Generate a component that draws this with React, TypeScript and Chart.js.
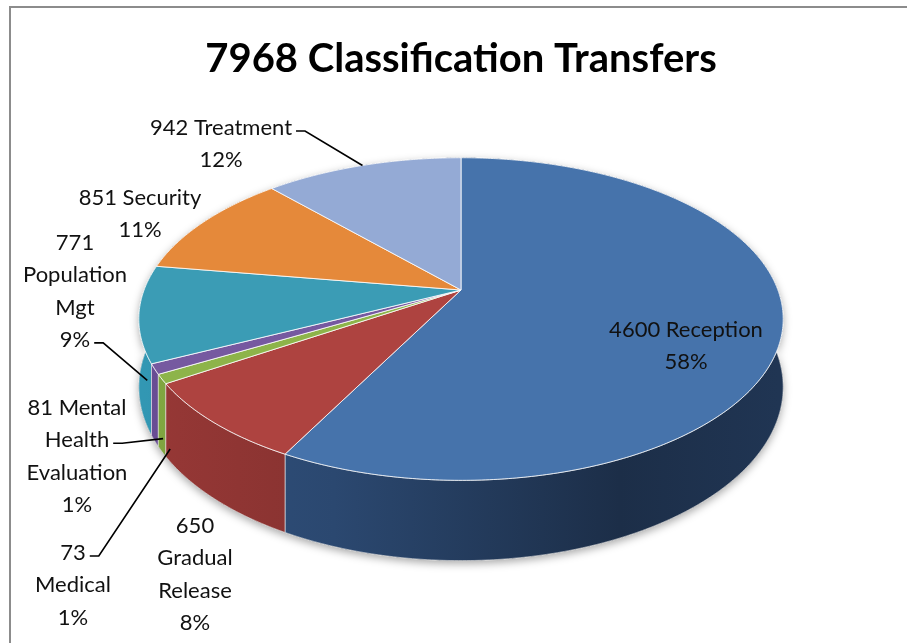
import React, { useEffect, useRef } from 'react';
import { Chart, registerables } from 'chart.js';

Chart.register(...registerables);

// ---------- data ----------
const categories = ['Reception', 'Gradual Release', 'Medical', 'Mental Health Evaluation', 'Population Mgt', 'Security', 'Treatment'];
const transfers = [4600, 650, 73, 81, 771, 851, 942];
const percentLabels = ['58%', '8%', '1%', '1%', '9%', '11%', '12%'];
const total = transfers.reduce((a, b) => a + b, 0);
const titleText = `${total} Classification Transfers`;

const labelLines: string[][] = [
  [`${transfers[0]} Reception`, percentLabels[0]],
  [`${transfers[1]}`, 'Gradual', 'Release', percentLabels[1]],
  [`${transfers[2]}`, 'Medical', percentLabels[2]],
  [`${transfers[3]} Mental`, 'Health', 'Evaluation', percentLabels[3]],
  [`${transfers[4]}`, 'Population', 'Mgt', percentLabels[4]],
  [`${transfers[5]} Security`, percentLabels[5]],
  [`${transfers[6]} Treatment`, percentLabels[6]],
];

// ---------- styles / layout ----------
const topColors = ['#4673AB', '#AE4340', '#8DB44A', '#7659A0', '#3B9CB5', '#E5893A', '#94AAD5'];
const sideColors = ['#2B4870', '#873230', '#73953A', '#5E4585', '#2D87A0', '#B86A28', '#6F83AA'];

// label anchor: centre x, first baseline y, which line carries a leader (-1 none)
const labelLayout = [
  { x: 686, y: 337, leader: -1 },
  { x: 195, y: 533, leader: -1 },
  { x: 73, y: 560, leader: 0 },
  { x: 77, y: 415, leader: 1 },
  { x: 75, y: 250, leader: 3 },
  { x: 140, y: 205, leader: -1 },
  { x: 221, y: 135, leader: 0 },
];
const LINE_H = 32.3;

// perspective of the tilted pie, relative to the library's outer radius
const PERSP = 0.18;
const KX = 1.531;
const KY = 0.754;
const KD = 0.318;

function shade(hex: string, f: number) {
  const n = parseInt(hex.slice(1), 16);
  const c = (x: number) => Math.max(0, Math.min(255, Math.round(x * f)));
  return `rgb(${c((n >> 16) & 255)},${c((n >> 8) & 255)},${c(n & 255)})`;
}

function proj(el: any, a: number, r: number, d: number): [number, number] {
  const R = el.outerRadius;
  const u = Math.cos(a) * r;
  const v = Math.sin(a) * r;
  const w = 1 - PERSP * v;
  return [el.x + (R * KX * u) / w, el.y + (R * KY * v) / w + (d * R * KD) / w];
}

function arcAngles(a1: number, a2: number) {
  const n = Math.max(2, Math.ceil((a2 - a1) / 0.01));
  const out: number[] = [];
  for (let i = 0; i <= n; i++) out.push(a1 + ((a2 - a1) * i) / n);
  return out;
}

function wallPath(ctx: CanvasRenderingContext2D, el: any) {
  const angs = arcAngles(el.startAngle, el.endAngle);
  angs.forEach((a, i) => {
    const [x, y] = proj(el, a, 1, 0);
    if (i === 0) ctx.moveTo(x, y);
    else ctx.lineTo(x, y);
  });
  for (let i = angs.length - 1; i >= 0; i--) {
    const [x, y] = proj(el, angs[i], 1, 1);
    ctx.lineTo(x, y);
  }
  ctx.closePath();
}

const borderPlugin = {
  id: 'frame',
  beforeDraw(chart: any) {
    const ctx = chart.ctx;
    ctx.save();
    ctx.fillStyle = '#8C8C8C';
    ctx.fillRect(9, 6, chart.width, 2);
    ctx.fillRect(9, 6, 2, chart.height);
    ctx.restore();
  },
};

const pie3dPlugin = {
  id: 'pie3d',
  beforeDatasetsDraw(chart: any) {
    const ctx: CanvasRenderingContext2D = chart.ctx;
    const meta = chart.getDatasetMeta(0);
    const els = meta.data;
    if (!els.length) return false;
    const e0 = els[0];
    const left = e0.x - e0.outerRadius * KX;
    const width = e0.outerRadius * KX * 2;
    ctx.save();

    // soft shadow of the whole body
    ctx.save();
    ctx.shadowColor = 'rgba(0,0,0,0.35)';
    ctx.shadowBlur = 9;
    ctx.shadowOffsetY = 3;
    ctx.fillStyle = '#333';
    ctx.beginPath();
    els.forEach((el: any) => wallPath(ctx, el));
    ctx.fill();
    ctx.restore();

    // walls, back to front
    const order = els
      .map((el: any, i: number) => ({ el, i, v: Math.sin((el.startAngle + el.endAngle) / 2) }))
      .sort((a: any, b: any) => a.v - b.v);
    order.forEach(({ el, i }: any) => {
      const g = ctx.createLinearGradient(left, 0, left + width, 0);
      const c = sideColors[i];
      g.addColorStop(0, shade(c, 1.12));
      g.addColorStop(0.3, shade(c, 1.0));
      g.addColorStop(0.75, shade(c, 0.64));
      g.addColorStop(1, shade(c, 0.74));
      ctx.beginPath();
      wallPath(ctx, el);
      ctx.fillStyle = g;
      ctx.fill();
      ctx.strokeStyle = 'rgba(255,255,255,0.55)';
      ctx.lineWidth = 1;
      ctx.stroke();
    });

    // top faces
    els.forEach((el: any, i: number) => {
      ctx.beginPath();
      ctx.moveTo(el.x, el.y);
      arcAngles(el.startAngle, el.endAngle).forEach((a) => {
        const [x, y] = proj(el, a, 1, 0);
        ctx.lineTo(x, y);
      });
      ctx.closePath();
      ctx.fillStyle = el.options.backgroundColor || topColors[i];
      ctx.fill();
      ctx.strokeStyle = 'rgba(255,255,255,0.8)';
      ctx.lineWidth = 1;
      ctx.lineJoin = 'round';
      ctx.stroke();
    });
    ctx.restore();
    return false;
  },
};

const labelPlugin = {
  id: 'pieLabels',
  afterDraw(chart: any) {
    const ctx: CanvasRenderingContext2D = chart.ctx;
    const els = chart.getDatasetMeta(0).data;
    ctx.save();
    ctx.font = '22px Lato';
    ctx.fillStyle = '#111';
    ctx.textAlign = 'center';
    ctx.textBaseline = 'alphabetic';
    ctx.strokeStyle = '#000';
    ctx.lineWidth = 1.6;
    labelLines.forEach((lines, i) => {
      const L = labelLayout[i];
      lines.forEach((t, k) => ctx.fillText(t, L.x, L.y + k * LINE_H));
      if (L.leader >= 0 && els[i]) {
        const el = els[i];
        const mid = (el.startAngle + el.endAngle) / 2;
        const front = Math.sin(mid) > 0;
        const [ax, ay] = front ? proj(el, mid, 0.975, 1) : proj(el, mid, 1, 0);
        const tw = ctx.measureText(lines[L.leader]).width;
        const sx = L.x + tw / 2 + 4;
        const sy = L.y + L.leader * LINE_H - 4;
        ctx.beginPath();
        ctx.moveTo(sx, sy);
        ctx.lineTo(sx + 9, sy);
        ctx.lineTo(ax, ay);
        ctx.stroke();
      }
    });
    ctx.restore();
  },
};

export default function App() {
  const ref = useRef<HTMLCanvasElement>(null);
  useEffect(() => {
    if (!ref.current) return;
    const chart = new Chart(ref.current, {
      type: 'pie',
      data: {
        labels: categories,
        datasets: [{ data: transfers, backgroundColor: topColors, borderWidth: 0 }],
      },
      options: {
        responsive: false,
        animation: false,
        events: [],
        layout: { padding: { left: 15, right: 0, top: 0, bottom: 146 } },
        plugins: {
          legend: { display: false },
          tooltip: { enabled: false },
          title: {
            display: true,
            text: titleText,
            color: '#000',
            font: { family: 'Lato', size: 40, weight: 'bold' },
            padding: { top: 35, bottom: 0 },
          },
        },
      } as any,
      plugins: [borderPlugin, pie3dPlugin, labelPlugin],
    });
    return () => chart.destroy();
  }, []);
  return (
    <div style={{ position: 'fixed', left: 0, top: 0, width: 907, height: 643, background: '#fff', overflow: 'hidden' }}>
      <canvas ref={ref} width={907} height={643} style={{ display: 'block', width: 907, height: 643 }} />
    </div>
  );
}
